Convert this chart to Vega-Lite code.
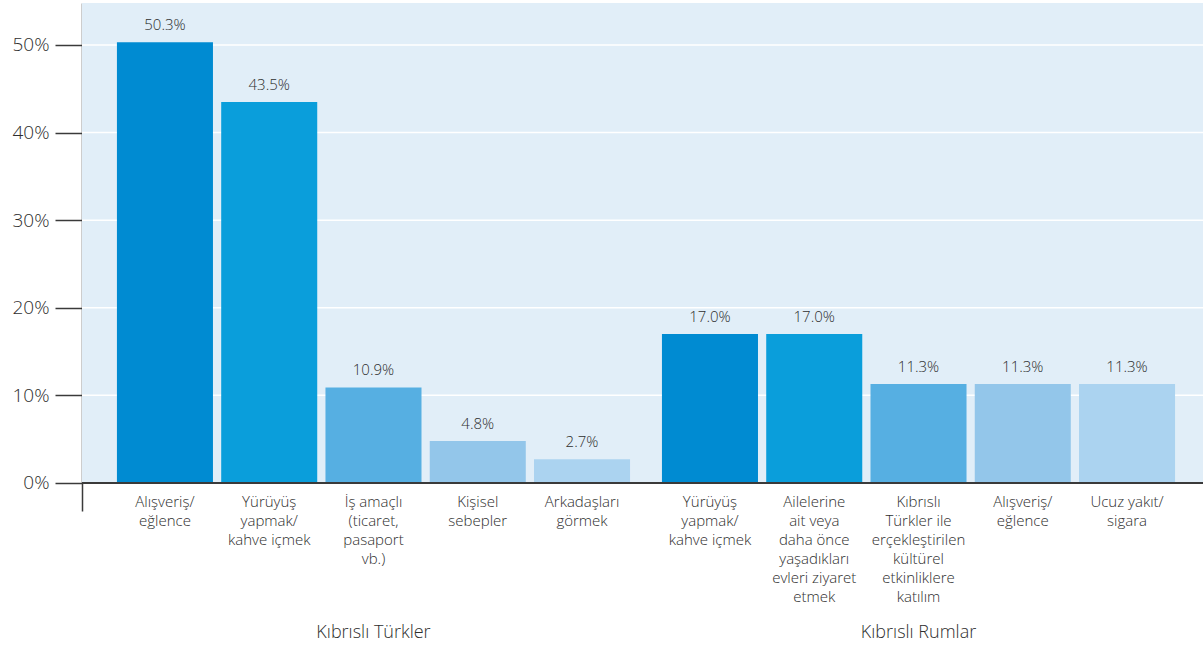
{
  "$schema": "https://vega.github.io/schema/vega-lite/v6.json",
  "width": 1121,
  "height": 508,
  "autosize": {"type": "none"},
  "padding": {"left": 82, "top": 3, "right": 0, "bottom": 137},
  "background": "white",
  "config": {
    "view": {"stroke": null},
    "font": "Open Sans",
    "text": {"font": "Open Sans", "color": "#2e2e2e", "fontWeight": 300}
  },
  "datasets": {
    "bars": [
      {"group": "Kıbrıslı Türkler", "rank": 1, "label": "Alışveriş/\neğlence", "value": 0.503},
      {"group": "Kıbrıslı Türkler", "rank": 2, "label": "Yürüyüş\nyapmak/\nkahve içmek", "value": 0.435},
      {"group": "Kıbrıslı Türkler", "rank": 3, "label": "İş amaçlı\n(ticaret,\npasaport\nvb.)", "value": 0.109},
      {"group": "Kıbrıslı Türkler", "rank": 4, "label": "Kişisel\nsebepler", "value": 0.048},
      {"group": "Kıbrıslı Türkler", "rank": 5, "label": "Arkadaşları\ngörmek", "value": 0.027},
      {"group": "Kıbrıslı Rumlar", "rank": 1, "label": "Yürüyüş\nyapmak/\nkahve içmek", "value": 0.17},
      {"group": "Kıbrıslı Rumlar", "rank": 2, "label": "Ailelerine\nait veya\ndaha önce\nyaşadıkları\nevleri ziyaret\netmek", "value": 0.17},
      {"group": "Kıbrıslı Rumlar", "rank": 3, "label": "Kıbrıslı\nTürkler ile\nerçekleştirilen\nkültürel\netkinliklere\nkatılım", "value": 0.113},
      {"group": "Kıbrıslı Rumlar", "rank": 4, "label": "Alışveriş/\neğlence", "value": 0.113},
      {"group": "Kıbrıslı Rumlar", "rank": 5, "label": "Ucuz yakıt/\nsigara", "value": 0.113}
    ],
    "grid": [{"v": 0.1}, {"v": 0.2}, {"v": 0.3}, {"v": 0.4}, {"v": 0.5}],
    "bg": [{"lo": 0, "hi": 0.5479}]
  },
  "layer": [
    {
      "data": {"name": "bg"},
      "mark": {"type": "rect", "color": "#e1eef8"},
      "encoding": {
        "y": {"field": "lo", "type": "quantitative",
          "scale": {"domain": [-0.032, 0.5479], "nice": false, "zero": false},
          "axis": {
            "values": [0, 0.1, 0.2, 0.3, 0.4, 0.5],
            "format": ".0%",
            "title": null,
            "grid": false,
            "domain": true,
            "domainColor": "#3a3a3a",
            "domainWidth": 1.5,
            "ticks": true,
            "tickSize": 27,
            "tickColor": "#3a3a3a",
            "tickWidth": 1.5,
            "labelFontSize": 19,
            "labelFontWeight": 300,
            "labelColor": "#2e2e2e",
            "labelFont": "Open Sans",
            "labelPadding": 6
          }
        },
        "y2": {"field": "hi"}
      }
    },
    {
      "data": {"name": "grid"},
      "mark": {"type": "rule", "color": "white", "strokeWidth": 1.5},
      "encoding": {
        "y": {"field": "v", "type": "quantitative"}
      }
    },
    {
      "data": {"name": "bars"},
      "layer": [
        {
          "mark": {"type": "bar"},
          "encoding": {
            "x": {"field": "group", "type": "nominal", "sort": ["Kıbrıslı Türkler", "Kıbrıslı Rumlar"],
              "scale": {"paddingInner": 0, "paddingOuter": 0.0284, "align": 0.613},
              "axis": {"title": null, "domain": false, "ticks": false, "labelAngle": 0,
                "labelFontSize": 18, "labelFontWeight": 300, "labelColor": "#2e2e2e", "labelFont": "Open Sans", "labelPadding": 112}
            },
            "xOffset": {"field": "rank", "type": "ordinal",
              "scale": {"paddingInner": 0.079, "paddingOuter": 0.153}},
            "y": {"field": "value", "type": "quantitative"},
            "y2": {"datum": 0},
            "color": {"field": "rank", "type": "ordinal", "legend": null,
              "scale": {"domain": [1, 2, 3, 4, 5], "range": ["#008bd2", "#0a9edb", "#56afe2", "#93c6ea", "#abd3f0"]}}
          }
        },
        {
          "mark": {"type": "text", "fontSize": 15, "fontWeight": 300, "baseline": "alphabetic", "dy": -12, "color": "#2e2e2e"},
          "encoding": {
            "x": {"field": "group", "type": "nominal", "sort": ["Kıbrıslı Türkler", "Kıbrıslı Rumlar"]},
            "xOffset": {"field": "rank", "type": "ordinal"},
            "y": {"field": "value", "type": "quantitative"},
            "text": {"field": "value", "type": "quantitative", "format": ".1%"}
          }
        },
        {
          "mark": {"type": "text", "fontSize": 15, "fontWeight": 300, "baseline": "top", "dy": 12, "lineBreak": "\n", "lineHeight": 19, "color": "#2e2e2e"},
          "encoding": {
            "x": {"field": "group", "type": "nominal", "sort": ["Kıbrıslı Türkler", "Kıbrıslı Rumlar"]},
            "xOffset": {"field": "rank", "type": "ordinal"},
            "y": {"datum": 0},
            "text": {"field": "label", "type": "nominal"}
          }
        }
      ]
    },
    {
      "data": {"values": [{"z": 0}]},
      "mark": {"type": "rule", "color": "#3a3a3a", "strokeWidth": 2},
      "encoding": {
        "y": {"field": "z", "type": "quantitative"}
      }
    }
  ]
}
